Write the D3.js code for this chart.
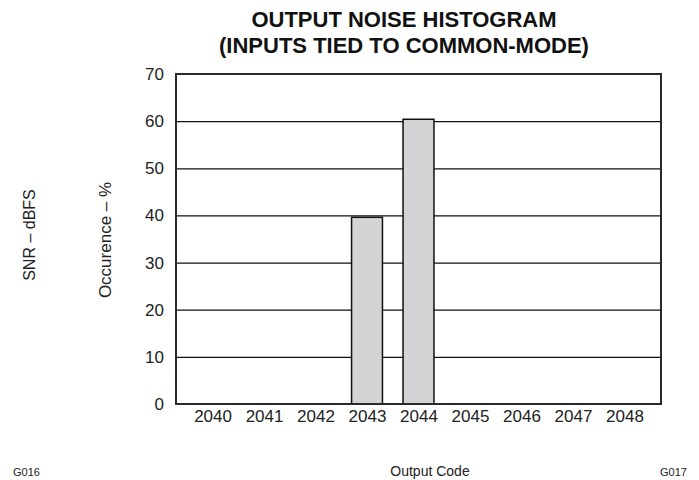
<!DOCTYPE html>
<html>
<head>
<meta charset="utf-8">
<script src="https://cdn.jsdelivr.net/npm/d3@7.9.0/dist/d3.min.js"></script>
<style>
  body { margin: 0; background: #fff; }
  svg { display: block; font-family: "Liberation Sans", Arial, sans-serif; }
</style>
</head>
<body>
<div id="chart"></div>
<script>
// Data
const codes = ["2040", "2041", "2042", "2043", "2044", "2045", "2046", "2047", "2048"];
const occurrence = [0, 0, 0, 39.6, 60.4, 0, 0, 0, 0];
const yTicks = [0, 10, 20, 30, 40, 50, 60, 70];
const titleLines = ["OUTPUT NOISE HISTOGRAM", "(INPUTS TIED TO COMMON-MODE)"];

const W = 699, H = 480;
const plot = { left: 176, right: 661, top: 74, bottom: 404 };

const svg = d3.select("#chart").append("svg")
  .attr("width", W)
  .attr("height", H);

const x = d3.scalePoint()
  .domain(codes)
  .range([plot.left, plot.right])
  .padding(0.71);

const barW = x.step() * 0.6;

const y = d3.scaleLinear()
  .domain([0, 70])
  .range([plot.bottom, plot.top]);

// gridlines + y labels
const yAxis = d3.axisLeft(y)
  .tickValues(yTicks)
  .tickSizeInner(-(plot.right - plot.left))
  .tickSizeOuter(0)
  .tickPadding(12);

const gy = svg.append("g")
  .attr("transform", `translate(${plot.left},0)`)
  .call(yAxis);
gy.select(".domain").remove();
gy.selectAll(".tick line").attr("stroke", "#111").attr("stroke-width", 1.2);
gy.selectAll(".tick text")
  .attr("fill", "#222")
  .attr("font-size", 17)
  .attr("font-family", "Liberation Sans, Arial, sans-serif");

// bars
svg.selectAll("rect.bar")
  .data(codes.map((c, i) => ({ code: c, value: occurrence[i] })).filter(d => d.value > 0))
  .enter()
  .append("rect")
  .attr("class", "bar")
  .attr("x", d => x(d.code) - barW / 2)
  .attr("y", d => y(d.value))
  .attr("width", barW)
  .attr("height", d => y(0) - y(d.value))
  .attr("fill", "#d4d4d6")
  .attr("stroke", "#111")
  .attr("stroke-width", 1.5);

// frame
svg.append("rect")
  .attr("x", plot.left)
  .attr("y", plot.top)
  .attr("width", plot.right - plot.left)
  .attr("height", plot.bottom - plot.top)
  .attr("fill", "none")
  .attr("stroke", "#2a2a2a")
  .attr("stroke-width", 2);

// x labels
const xAxis = d3.axisBottom(x).tickSize(0).tickPadding(6);
const gx = svg.append("g")
  .attr("transform", `translate(0,${plot.bottom})`)
  .call(xAxis);
gx.select(".domain").remove();
gx.selectAll(".tick text")
  .attr("fill", "#222")
  .attr("font-size", 17)
  .attr("font-family", "Liberation Sans, Arial, sans-serif");

// title
svg.append("g")
  .selectAll("text")
  .data(titleLines)
  .enter()
  .append("text")
  .attr("x", 404)
  .attr("y", (d, i) => 27 + i * 26)
  .attr("text-anchor", "middle")
  .attr("font-size", 22)
  .attr("font-weight", "bold")
  .attr("fill", "#111")
  .text(d => d);

// axis titles
svg.append("text")
  .attr("transform", "translate(111,240) rotate(-90)")
  .attr("text-anchor", "middle")
  .attr("font-size", 17)
  .attr("fill", "#222")
  .text("Occurence – %");

svg.append("text")
  .attr("transform", "translate(35,235) rotate(-90)")
  .attr("text-anchor", "middle")
  .attr("font-size", 16)
  .attr("fill", "#222")
  .text("SNR – dBFS");

svg.append("text")
  .attr("x", 430)
  .attr("y", 476)
  .attr("text-anchor", "middle")
  .attr("font-size", 14)
  .attr("fill", "#222")
  .text("Output Code");

svg.append("text")
  .attr("x", 13)
  .attr("y", 476)
  .attr("font-size", 11)
  .attr("fill", "#222")
  .text("G016");

svg.append("text")
  .attr("x", 660)
  .attr("y", 476)
  .attr("font-size", 11)
  .attr("fill", "#222")
  .text("G017");
</script>
</body>
</html>
